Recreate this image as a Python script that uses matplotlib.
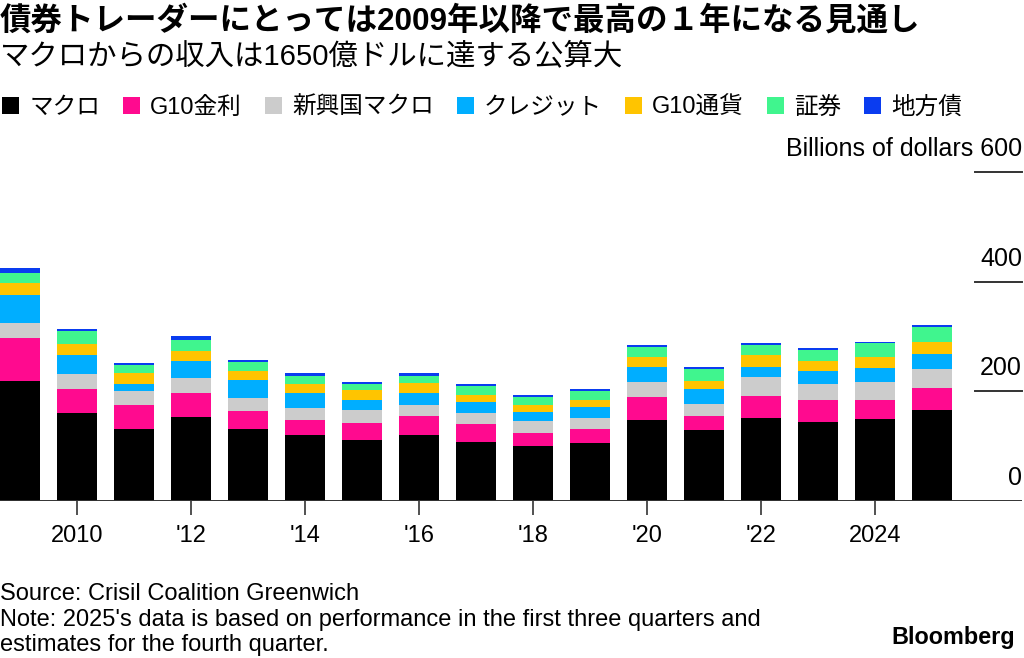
import matplotlib
matplotlib.use("Agg")
import matplotlib.pyplot as plt
import matplotlib.transforms as mtransforms
from matplotlib.patches import Patch
import numpy as np

plt.rcParams['font.family'] = ['Liberation Sans', 'Noto Sans CJK JP', 'DejaVu Sans']

# data (billions of dollars)
years = list(range(2009, 2026))
macro = [218, 160, 130, 153, 130, 119, 111, 119, 107, 99, 105, 147, 128, 151, 144, 149, 165]
g10_rates = [78, 44, 44, 44, 33, 28, 30, 35, 32, 25, 26, 42, 26, 40, 40, 35, 41]
em_macro = [28, 27, 26, 27, 25, 22, 24, 21, 20, 21, 20, 27, 23, 34, 29, 32, 35]
credit = [51, 35, 13, 31, 32, 28, 19, 22, 20, 16, 19, 27, 26, 19, 23, 26, 26]
g10_fx = [23, 19, 20, 18, 16, 15, 18, 18, 14, 14, 14, 20, 16, 22, 18, 20, 23]
securitized = [18, 24, 14, 20, 17, 16, 11, 13, 16, 14, 16, 18, 21, 18, 20, 25, 27]
munis = [8, 5, 4, 7, 4, 4, 4, 4, 4, 4, 4, 3, 4, 3, 4, 3, 3]

series = [macro, g10_rates, em_macro, credit, g10_fx, securitized, munis]
names = ['マクロ', 'G10金利', '新興国マクロ', 'クレジット', 'G10通貨', '証券', '地方債']
colors = ['#000000', '#ff0a8f', '#cccccc', '#00aeff', '#ffc400', '#40f58e', '#0a3cf0']

tick_years = [2010, 2012, 2014, 2016, 2018, 2020, 2022, 2024]
tick_labels = ['2010', "'12", "'14", "'16", "'18", "'20", "'22", '2024']
y_ticks = [0, 200, 400, 600]

fig = plt.figure(figsize=(10.24, 6.58), dpi=100)
ax = fig.add_axes([0, (658 - 500.5) / 658, 1022 / 1024, (500.5 - 172) / 658])

bottom = np.zeros(len(years))
for vals, c in zip(series, colors):
    ax.bar(years, vals, width=0.7, bottom=bottom, color=c, zorder=2)
    bottom += np.array(vals)

ax.set_xlim(2008.65, 2008.65 + 1022 / 57)
ax.set_ylim(0, 600)

for s in ax.spines.values():
    s.set_visible(False)
ax.set_yticks([])
ax.set_xticks(tick_years)
ax.set_xticklabels(tick_labels, fontsize=17)
ax.tick_params(axis='x', length=10, width=1.2, color='#333333', pad=8)

ax.axhline(0, color='#333333', lw=1.4, zorder=3)
trans = mtransforms.blended_transform_factory(ax.transAxes, ax.transData)
for v in y_ticks:
    if v > 0:
        ax.plot([0.954, 1.0], [v, v], transform=trans, color='#333333', lw=1.4, clip_on=False)
    lab = str(v)
    if v == 600:
        lab = 'Billions of dollars 600'
    ax.text(1.0, v + 20, lab, transform=trans, ha='right', va='bottom', fontsize=18)

fig.text(0.0, 0.968, '債券トレーダーにとっては2009年以降で最高の１年になる見通し',
         fontsize=22.7, fontweight='bold', ha='left', va='center')
fig.text(0.0, 0.915, 'マクロからの収入は1650億ドルに達する公算大',
         fontsize=21.2, ha='left', va='center')

handles = [Patch(facecolor=c, edgecolor='none') for c in colors]
fig.legend(handles, names, loc='center left', bbox_to_anchor=(0.0, 0.836), ncol=7,
           frameon=False, fontsize=17, handlelength=0.72, handleheight=0.72,
           handletextpad=0.42, columnspacing=0.98, borderaxespad=0, borderpad=0.1)

fig.text(0.0, 0.097, 'Source: Crisil Coalition Greenwich', fontsize=17, ha='left', va='center')
fig.text(0.0, 0.057, "Note: 2025's data is based on performance in the first three quarters and",
         fontsize=17, ha='left', va='center')
fig.text(0.0, 0.019, 'estimates for the fourth quarter.', fontsize=17, ha='left', va='center')
fig.text(0.991, 0.031, 'Bloomberg', fontsize=16.8, fontweight='bold', ha='right', va='center')

fig.savefig('out.png', dpi=100)
